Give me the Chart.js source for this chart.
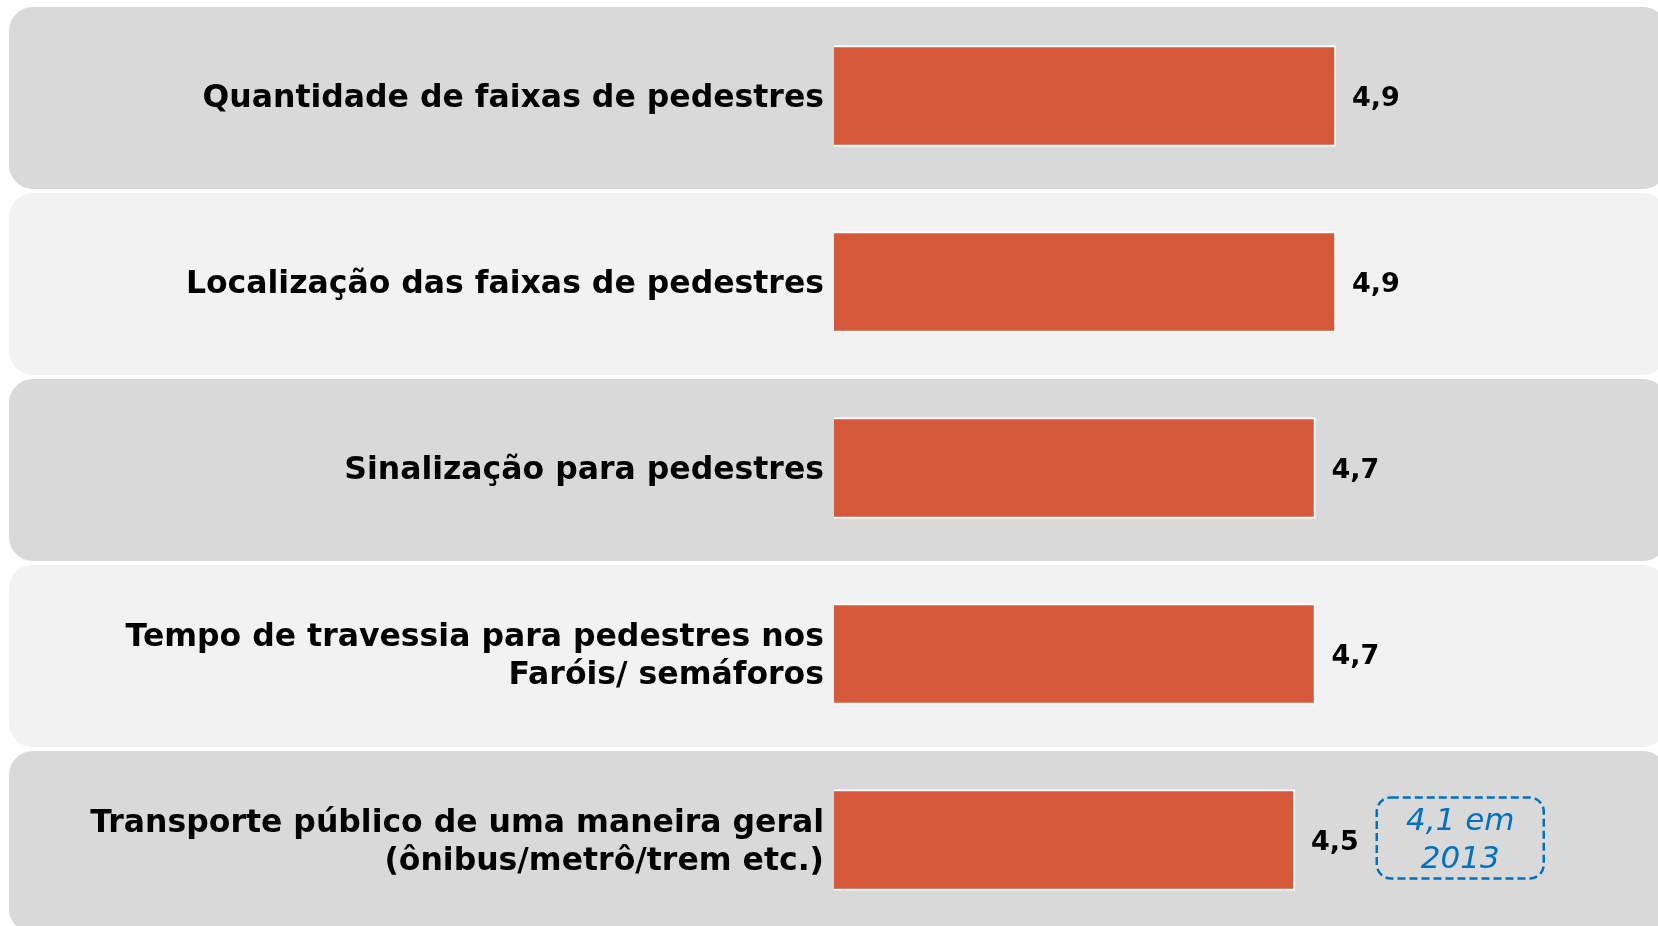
<!DOCTYPE html>
<html>
<head>
<meta charset="utf-8">
<script src="https://cdn.jsdelivr.net/npm/chart.js@4/dist/chart.umd.min.js"></script>
<style>
  html, body { margin: 0; padding: 0; background: #ffffff; overflow: hidden; }
  #wrap { width: 1658px; height: 926px; position: relative; }
</style>
</head>
<body>
<div id="wrap"><canvas id="notaChart"></canvas></div>
<script>
// Chart data
const categorias = [
    'Quantidade de faixas de pedestres',
    'Localização das faixas de pedestres',
    'Sinalização para pedestres',
    ['Tempo de travessia para pedestres nos', 'Faróis/ semáforos'],
    ['Transporte público de uma maneira geral', '(ônibus/metrô/trem etc.)']
];
const notas = [4.9, 4.9, 4.7, 4.7, 4.5];
// Previous-year note, only for the last item
const notasAnteriores = [null, null, null, null, 4.1];
const anoAnterior = 2013;

const fmt = v => v.toFixed(1).replace('.', ',');

// Alternating grey rows behind each category (drawn before the axis labels)
const panelPlugin = {
    id: 'panels',
    beforeDraw(chart) {
        const ctx = chart.ctx;
        const y = chart.scales.y;
        ctx.save();
        categorias.forEach((c, i) => {
            const cy = y.getPixelForTick(i);
            ctx.fillStyle = i % 2 === 0 ? '#d9d9d9' : '#f2f2f2';
            ctx.beginPath();
            ctx.roundRect(9, cy - 89, 1658, 182, 24);
            ctx.fill();
        });
        ctx.restore();
    }
};

// Value labels and the 2013 box
const labelPlugin = {
    id: 'valueLabels',
    afterDatasetsDraw(chart) {
        const ctx = chart.ctx;
        const meta = chart.getDatasetMeta(0);
        ctx.save();
        meta.data.forEach((bar, i) => {
            const txt = fmt(notas[i]);
            ctx.font = 'bold 27px "DejaVu Sans"';
            ctx.fillStyle = '#000000';
            ctx.textAlign = 'left';
            ctx.textBaseline = 'middle';
            const x = bar.x + 16;
            ctx.fillText(txt, x, bar.y + 3);
            const prev = notasAnteriores[i];
            if (prev !== null) {
                const bx = x + ctx.measureText(txt).width + 18;
                const bw = 167, bh = 81;
                ctx.setLineDash([8, 4]);
                ctx.lineWidth = 2.5;
                ctx.strokeStyle = '#0070c0';
                ctx.beginPath();
                ctx.roundRect(bx, bar.y - bh / 2 - 2, bw, bh, 14);
                ctx.stroke();
                ctx.setLineDash([]);
                ctx.font = 'italic 31px "DejaVu Sans"';
                ctx.fillStyle = '#0070c0';
                ctx.textAlign = 'center';
                ctx.textBaseline = 'alphabetic';
                ctx.fillText(fmt(prev) + ' em', bx + bw / 2, bar.y - 10);
                ctx.fillText(String(anoAnterior), bx + bw / 2, bar.y + 28);
            }
        });
        ctx.restore();
    }
};

const ctx = document.getElementById('notaChart').getContext('2d');
const notaChart = new Chart(ctx, {
    type: 'bar',
    data: {
        labels: categorias,
        datasets: [{
            data: notas,
            backgroundColor: '#d5583a',
            borderColor: '#ffffff',
            borderWidth: 2,
            barThickness: 101,
            clip: false
        }]
    },
    options: {
        indexAxis: 'y',
        responsive: true,
        maintainAspectRatio: false,
        animation: false,
        layout: { padding: { top: 96, bottom: 86, left: 0, right: 107 } },
        plugins: {
            legend: { display: false },
            tooltip: { enabled: false }
        },
        scales: {
            x: {
                display: false,
                min: 0,
                max: 7
            },
            y: {
                offset: false,
                grid: { display: false },
                border: { display: false },
                afterFit(scale) { scale.width = 834; },
                ticks: {
                    padding: 2,
                    labelOffset: 3,
                    color: '#000000',
                    font: { family: '"DejaVu Sans"', size: 31.5, weight: 'bold', lineHeight: 1.2 }
                }
            }
        }
    },
    plugins: [panelPlugin, labelPlugin]
});
</script>
</body>
</html>
